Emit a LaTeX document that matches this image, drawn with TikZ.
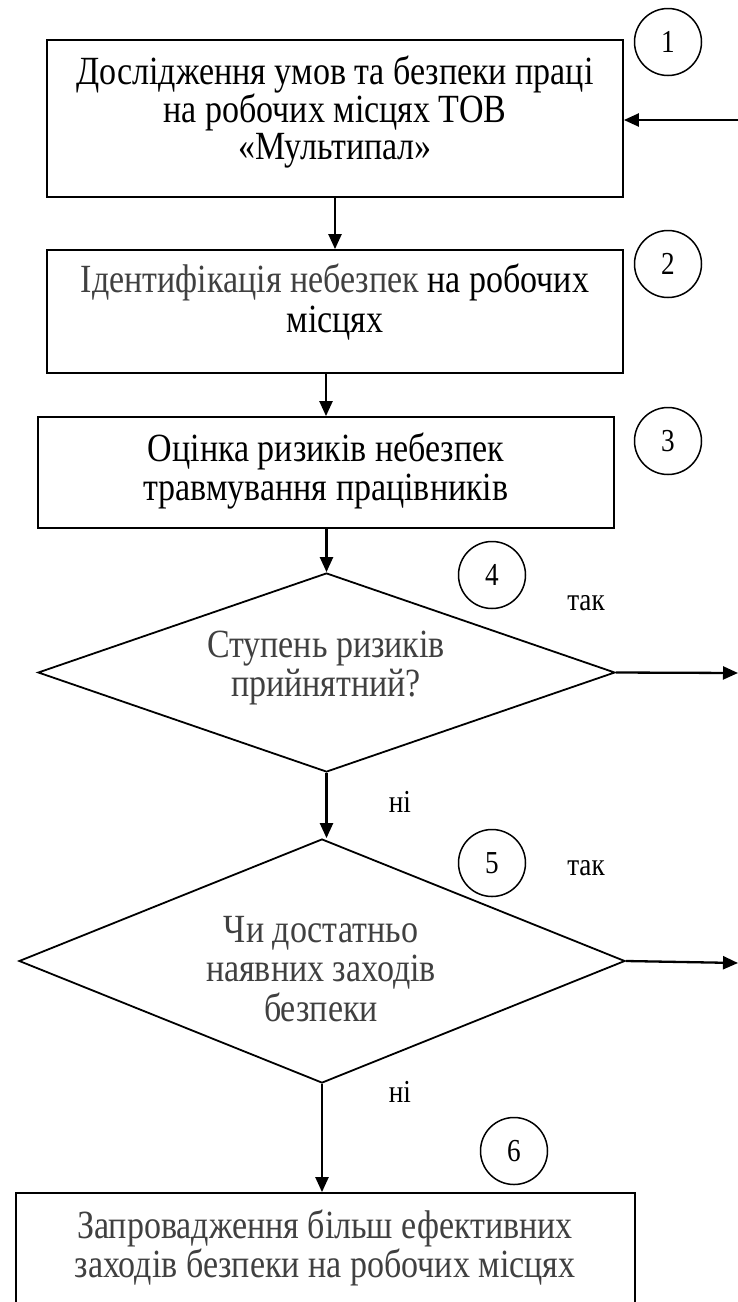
\documentclass[tikz,border=0pt]{standalone}
\usepackage{fontspec}
\setmainfont{Liberation Serif}[FakeStretch=0.85]
\usetikzlibrary{shapes.geometric,arrows.meta}
\definecolor{txtgray}{RGB}{64,64,64}
\begin{document}
\begin{tikzpicture}[x=1pt,y=-1pt,
  box/.style={draw, line width=1.8pt, inner sep=0pt},
  dia/.style={draw, diamond, line width=1.8pt, inner sep=0pt, aspect=2.9},
  txt/.style={align=center, font=\fontsize{40}{39.5}\selectfont, inner sep=0pt},
  num/.style={draw, circle, line width=1.5pt, minimum size=67pt, inner sep=0pt, font=\fontsize{32}{34}\selectfont},
  lbl/.style={font=\fontsize{32}{34}\selectfont, inner sep=0pt},
  arr/.style={line width=2.3pt, -{Triangle[length=15pt,width=13pt]}}]
\useasboundingbox[fill=white] (0,0) rectangle (738,1302);

% boxes
\node[box, minimum width=576pt, minimum height=157pt] (b1) at (335,118.5) {};
\node[box, minimum width=576pt, minimum height=123pt] (b2) at (335,311.5) {};
\node[box, minimum width=576pt, minimum height=111pt] (b3) at (326,472.5) {};
\node[dia, minimum width=577pt, minimum height=199pt] (d4) at (326.5,672.5) {};
\node[dia, minimum width=606pt, minimum height=244pt] (d5) at (322,961) {};
\node[box, minimum width=619pt, minimum height=147pt] (b6) at (325.5,1266.5) {};

% texts
\node[txt, font=\fontsize{40}{37.5}\selectfont] (t1) at (335,112) {Дослідження умов та безпеки праці\\на робочих місцях ТОВ\\«Мультипал»};
\node[txt] (t2) at (335,302) {\textcolor{txtgray}{Ідентифікація небезпек} на робочих\\місцях};
\node[txt] (t3) at (326,471) {Оцінка ризиків небезпек\\травмування працівників};
\node[txt, text=txtgray] (t4) at (326,668) {Ступень ризиків\\прийнятний?};
\node[txt, text=txtgray] (t5) at (321,969) {Чи достатньо\\наявних заходів\\безпеки};
\node[txt, text=txtgray] (t6) at (325,1248) {Запровадження більш ефективних\\заходів безпеки на робочих місцях};

% number circles
\node[num] (c1) at (668,42) {1};
\node[num] (c2) at (668,264) {2};
\node[num] (c3) at (668,441) {3};
\node[num] (c4) at (492,575) {4};
\node[num] (c5) at (492,863) {5};
\node[num] (c6) at (514,1151) {6};

% labels
\node[lbl] (y4) at (586,603) {так};
\node[lbl] (y5) at (586,868) {так};
\node[lbl] (n4) at (400,802) {ні};
\node[lbl] (n5) at (400,1092) {ні};

% free ends
\coordinate (r1) at (738,120);
\coordinate (r4) at (738,673);
\coordinate (r5) at (738,963);

% connectors
\draw[arr] (r1) -- (r1 -| b1.east);
\draw[arr] (b1.south) -- (b2.north);
\draw[arr] (b3.north |- b2.south) -- (b3.north);
\draw[arr] (d4.north |- b3.south) -- (d4.north);
\draw[arr] (d4.south) -- (d4.south |- d5.north);
\draw[arr] (d5.south) -- (d5.south |- b6.north);
\draw[arr] (d4.east) -- (r4);
\draw[arr] (d5.east) -- (r5);
\end{tikzpicture}
\end{document}
